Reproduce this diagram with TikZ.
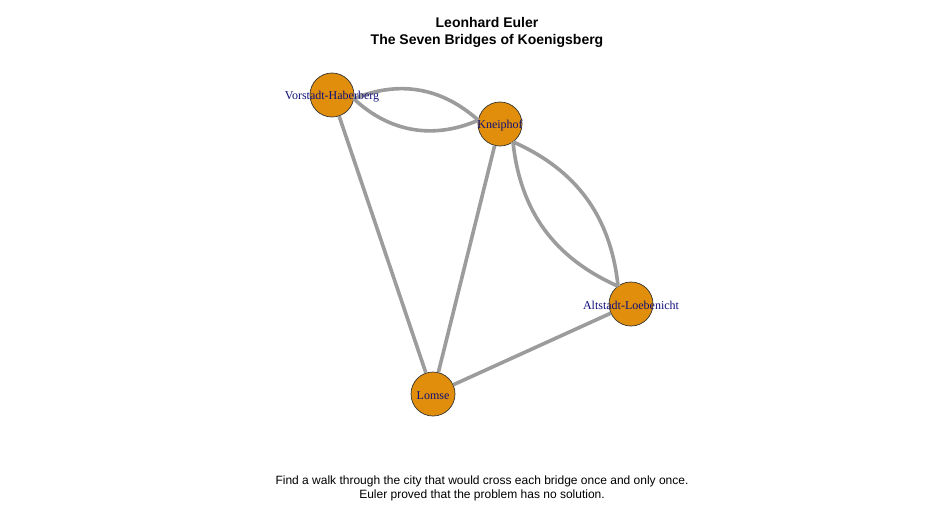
\documentclass[tikz,border=0pt]{standalone}
\usepackage{fontspec}
\setmainfont{Liberation Sans}
\newfontfamily\labelfont{Liberation Serif}
\usetikzlibrary{calc}
\definecolor{vfill}{HTML}{E08E0B}
\definecolor{edgegray}{HTML}{9C9C9C}
\definecolor{vborder}{HTML}{333333}
\definecolor{labblue}{HTML}{10107A}
\tikzset{
  vert/.style={circle, draw=vborder, line width=0.7pt, fill=vfill, minimum size=44pt, inner sep=0pt},
  vlab/.style={font=\labelfont\fontsize{12}{13}\selectfont, text=labblue, inner sep=0pt},
  bridge/.style={draw=edgegray, line width=3.6pt},
  ttl/.style={font=\bfseries\fontsize{14}{17}\selectfont, align=center},
  captext/.style={font=\fontsize{12}{14}\selectfont, align=center}
}
\begin{document}
\begin{tikzpicture}[x=1pt,y=-1pt]
\useasboundingbox[fill=white] (0,0) rectangle (936,504);
\node[vert] (V) at (332,95) {};
\node[vert] (K) at (500,124) {};
\node[vert] (A) at (631,304) {};
\node[vert] (L) at (433,394) {};
% bridges
\draw[bridge] ($(V.center)!22pt!(K.center)$) to[bend left=32] ($(K.center)!22pt!(V.center)$);
\draw[bridge] ($(V.center)!22pt!(K.center)$) to[bend right=33] ($(K.center)!22pt!(V.center)$);
\draw[bridge] ($(K.center)!22pt!(A.center)$) to[bend left=30] ($(A.center)!22pt!(K.center)$);
\draw[bridge] ($(K.center)!22pt!(A.center)$) to[bend right=30] ($(A.center)!22pt!(K.center)$);
\draw[bridge] (V) -- (L);
\draw[bridge] (K) -- (L);
\draw[bridge] (L) -- (A);
% labels
\node[vlab] (Vl) at ($(V.center)+(0,1.5)$) {Vorstadt-Haberberg};
\node[vlab] (Kl) at ($(K.center)+(0,1.5)$) {Kneiphof};
\node[vlab] (Al) at ($(A.center)+(0,1.5)$) {Altstadt-Loebenicht};
\node[vlab] (Ll) at ($(L.center)+(0,1.5)$) {Lomse};
% title and caption
\node[ttl] (title) at (487,32) {Leonhard Euler\\The Seven Bridges of Koenigsberg};
\node[captext] (caption) at (482,488) {Find a walk through the city that would cross each bridge once and only once.\\Euler proved that the problem has no solution.};
\end{tikzpicture}
\end{document}
